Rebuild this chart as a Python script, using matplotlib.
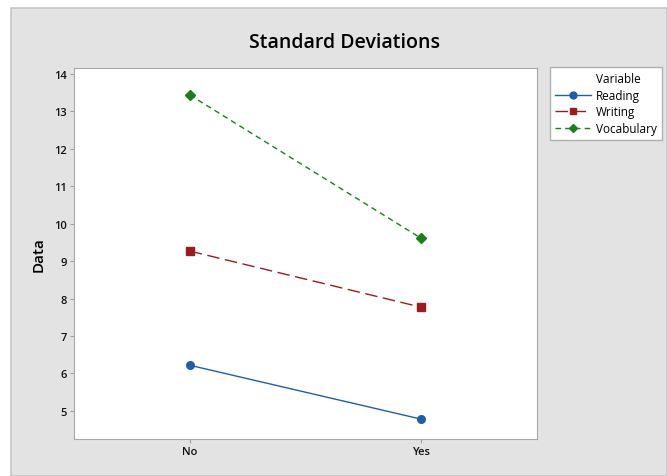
import matplotlib.pyplot as plt
from matplotlib.patches import Rectangle

plt.rcParams['font.family'] = ['Open Sans', 'DejaVu Sans']

# Данные
groups = ["No", "Yes"]
reading = [6.22, 4.78]
writing = [9.27, 7.77]
vocabulary = [13.44, 9.61]

fig = plt.figure(figsize=(6.67, 4.77), dpi=100)
fig.patch.set_facecolor("white")

# Серый фон графика
fig.patches.append(Rectangle((11 / 667, 0), 1 - 11 / 667, 1 - 9 / 477,
                             transform=fig.transFigure, facecolor="#e3e3e3",
                             edgecolor="#c6c6c6", linewidth=1.2, zorder=-10))

ax = fig.add_axes([74 / 667, 1 - 440 / 477, 463 / 667, 371 / 477])
ax.set_facecolor("white")

x = range(len(groups))
ax.plot(x, reading, color="#1f5fa8", marker="o", markersize=5.5,
        linestyle="-", linewidth=1, label="Reading")
ax.plot(x, writing, color="#9b1c1c", marker="s", markersize=5.5,
        linestyle=(0, (9, 4)), linewidth=1, label="Writing")
ax.plot(x, vocabulary, color="#1a7f1a", marker="D", markersize=5,
        linestyle=(0, (4, 3)), linewidth=1, label="Vocabulary")

ax.set_xlim(-0.5, 1.5)
ax.set_ylim(4.25, 14.16)
ax.set_xticks(list(x))
ax.set_xticklabels(groups)
ax.set_yticks(range(5, 15))
ax.tick_params(labelsize=8, color="#a0a0a0", length=3, pad=2,
               labelcolor="#111111")
for lbl in ax.get_xticklabels() + ax.get_yticklabels():
    lbl.set_fontweight("semibold")
for s in ax.spines.values():
    s.set_color("#a8a8a8")

ax.set_ylabel("Data", fontsize=11, labelpad=6, fontweight="semibold")
fig.text(345 / 667, 1 - 43 / 477, "Standard Deviations", fontsize=14,
         fontweight="semibold", ha="center", va="center")

leg = ax.legend(title=" ", loc="upper left",
                bbox_to_anchor=(550 / 667, 1 - 68 / 477),
                bbox_transform=fig.transFigure, fontsize=8.5, title_fontsize=8.5,
                frameon=True, fancybox=False, borderpad=0.45, framealpha=1,
                handlelength=3.0, labelspacing=0.3, handletextpad=0.45,
                borderaxespad=0, markerscale=0.9)
leg.get_frame().set_edgecolor("#b0b0b0")
leg.get_frame().set_linewidth(1)

# Заголовок легенды выровнен по подписям
fig.canvas.draw()
r = fig.canvas.get_renderer()
tx = leg.get_texts()[0].get_window_extent(r).x0
tb = leg.get_title().get_window_extent(r)
fig.text(tx / fig.bbox.width, (tb.y0 + tb.y1) / 2 / fig.bbox.height,
         "Variable", fontsize=8.5, ha="left", va="center")

fig.savefig("out.png", dpi=100)
